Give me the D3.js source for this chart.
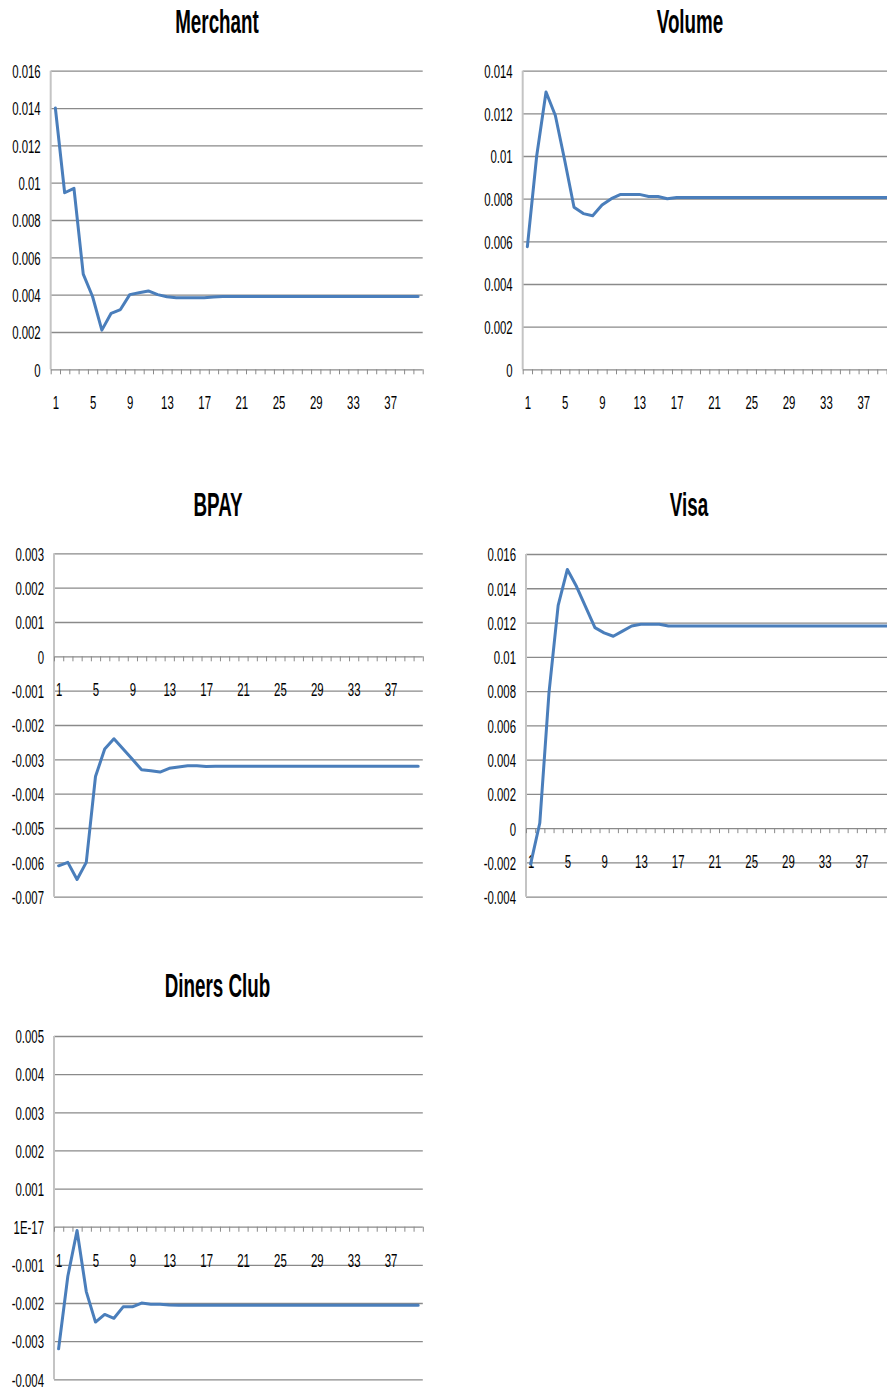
<!DOCTYPE html>
<html>
<head>
<meta charset="utf-8">
<script src="https://cdn.jsdelivr.net/npm/d3@7"></script>
<style>
  html, body { margin: 0; padding: 0; background: #fff; }
  svg { display: block; }
  text { font-family: "Liberation Sans", Arial, sans-serif; fill: #000; }
</style>
</head>
<body>
<svg id="chart" width="887" height="1391"></svg>
<script>
// Impulse responses, periods 1..40
const periods = d3.range(1, 41);
const xTickLabels = ["1", "5", "9", "13", "17", "21", "25", "29", "33", "37"];

const merchant = [0.0140, 0.00946, 0.0097, 0.0051, 0.0039, 0.0021, 0.0030, 0.0032, 0.0040, 0.0041,
  0.0042, 0.0040, 0.00389, 0.00384, 0.00383, 0.00383, 0.00384, 0.00388, 0.0039, 0.0039,
  0.0039, 0.0039, 0.0039, 0.0039, 0.0039, 0.0039, 0.0039, 0.0039, 0.0039, 0.0039,
  0.0039, 0.0039, 0.0039, 0.0039, 0.0039, 0.0039, 0.0039, 0.0039, 0.0039, 0.0039];

const volume = [0.00575, 0.0100, 0.0130, 0.0119, 0.0098, 0.0076, 0.0073, 0.0072, 0.0077, 0.0080,
  0.0082, 0.0082, 0.0082, 0.0081, 0.0081, 0.0080, 0.00805, 0.00806, 0.00806, 0.00806,
  0.00806, 0.00806, 0.00806, 0.00806, 0.00806, 0.00806, 0.00806, 0.00806, 0.00806, 0.00806,
  0.00806, 0.00806, 0.00806, 0.00806, 0.00806, 0.00806, 0.00806, 0.00806, 0.00806, 0.00806];

const bpay = [-0.0061, -0.0060, -0.0065, -0.0060, -0.0035, -0.0027, -0.0024, -0.0027, -0.0030, -0.0033,
  -0.00333, -0.00337, -0.00326, -0.00322, -0.00319, -0.00319, -0.00321, -0.0032, -0.0032, -0.0032,
  -0.0032, -0.0032, -0.0032, -0.0032, -0.0032, -0.0032, -0.0032, -0.0032, -0.0032, -0.0032,
  -0.0032, -0.0032, -0.0032, -0.0032, -0.0032, -0.0032, -0.0032, -0.0032, -0.0032, -0.0032];

const visa = [-0.0021, 0.0003, 0.0079, 0.0130, 0.0151, 0.0141, 0.0129, 0.0117, 0.0114, 0.0112,
  0.0115, 0.0118, 0.0119, 0.0119, 0.0119, 0.0118, 0.0118, 0.0118, 0.0118, 0.0118,
  0.0118, 0.0118, 0.0118, 0.0118, 0.0118, 0.0118, 0.0118, 0.0118, 0.0118, 0.0118,
  0.0118, 0.0118, 0.0118, 0.0118, 0.0118, 0.0118, 0.0118, 0.0118, 0.0118, 0.0118];

const diners = [-0.0032, -0.0013, -0.0001, -0.0017, -0.0025, -0.0023, -0.0024, -0.0021, -0.0021, -0.0020,
  -0.00203, -0.00203, -0.00205, -0.00206, -0.00206, -0.00206, -0.00206, -0.00206, -0.00206, -0.00206,
  -0.00206, -0.00206, -0.00206, -0.00206, -0.00206, -0.00206, -0.00206, -0.00206, -0.00206, -0.00206,
  -0.00206, -0.00206, -0.00206, -0.00206, -0.00206, -0.00206, -0.00206, -0.00206, -0.00206, -0.00206];

// Y tick values and their printed labels per panel
const merchantTicks = [0, 0.002, 0.004, 0.006, 0.008, 0.010, 0.012, 0.014, 0.016];
const merchantLabels = ["0", "0.002", "0.004", "0.006", "0.008", "0.01", "0.012", "0.014", "0.016"];
const volumeTicks = [0, 0.002, 0.004, 0.006, 0.008, 0.010, 0.012, 0.014];
const volumeLabels = ["0", "0.002", "0.004", "0.006", "0.008", "0.01", "0.012", "0.014"];
const bpayTicks = [-0.007, -0.006, -0.005, -0.004, -0.003, -0.002, -0.001, 0, 0.001, 0.002, 0.003];
const bpayLabels = ["-0.007", "-0.006", "-0.005", "-0.004", "-0.003", "-0.002", "-0.001", "0", "0.001", "0.002", "0.003"];
const visaTicks = [-0.004, -0.002, 0, 0.002, 0.004, 0.006, 0.008, 0.010, 0.012, 0.014, 0.016];
const visaLabels = ["-0.004", "-0.002", "0", "0.002", "0.004", "0.006", "0.008", "0.01", "0.012", "0.014", "0.016"];
const dinersTicks = [-0.004, -0.003, -0.002, -0.001, 0, 0.001, 0.002, 0.003, 0.004, 0.005];
const dinersLabels = ["-0.004", "-0.003", "-0.002", "-0.001", "1E-17", "0.001", "0.002", "0.003", "0.004", "0.005"];

// Panel layout (plot-area pixel boxes) and which series goes where
const panels = [
  { title: "Merchant", values: merchant, ticks: merchantTicks, labels: merchantLabels,
    left: 50.7, bandW: 9.3, top: 70.7, bottom: 369.3, titleX: 217, titleY: 33 },
  { title: "Volume", values: volume, ticks: volumeTicks, labels: volumeLabels,
    left: 522.7, bandW: 9.33, top: 70.7, bottom: 369.3, titleX: 690, titleY: 33 },
  { title: "BPAY", values: bpay, ticks: bpayTicks, labels: bpayLabels,
    left: 54, bandW: 9.22, top: 553.3, bottom: 896.7, titleX: 218, titleY: 516 },
  { title: "Visa", values: visa, ticks: visaTicks, labels: visaLabels,
    left: 526, bandW: 9.19, top: 554, bottom: 896.7, titleX: 689, titleY: 516 },
  { title: "Diners Club", values: diners, ticks: dinersTicks, labels: dinersLabels,
    left: 54, bandW: 9.22, top: 1036, bottom: 1379.3, titleX: 217.5, titleY: 997 }
];

const TEXT_SX = 0.6;      // condensed look of the tick text
const TITLE_SX = 0.57;
const gridColor = "#8a8a8a";
const lineColor = "#4a7ebb";

const svg = d3.select("#chart");

panels.forEach(p => {
  const n = periods.length;
  const right = p.left + p.bandW * n;
  const yMin = d3.min(p.ticks), yMax = d3.max(p.ticks);

  const y = d3.scaleLinear().domain([yMin, yMax]).range([p.bottom, p.top]);
  const xEdge = d3.scaleLinear().domain([0, n]).range([p.left, right]);
  const xCat = d3.scaleLinear().domain([0.5, n + 0.5]).range([p.left, right]);

  const g = svg.append("g");

  // Title
  g.append("text")
    .attr("transform", `translate(${p.titleX},${p.titleY}) scale(${TITLE_SX},1)`)
    .attr("text-anchor", "middle")
    .style("font-weight", "bold")
    .style("font-size", "33px")
    .text(p.title);

  // Horizontal gridlines + y labels
  const yAxis = g.append("g")
    .attr("transform", `translate(${p.left},0)`)
    .call(d3.axisLeft(y)
      .tickValues(p.ticks)
      .tickSize(-(right - p.left))
      .tickFormat((d, i) => p.labels[i]));
  yAxis.select(".domain").remove();
  yAxis.selectAll(".tick line")
    .attr("stroke", gridColor)
    .attr("stroke-width", 1.3);
  yAxis.selectAll(".tick text")
    .attr("x", null)
    .attr("dy", "0.36em")
    .attr("transform", `translate(-10,0) scale(${TEXT_SX},1)`)
    .style("font-size", "19px")
    .style("font-family", "'Liberation Sans', Arial, sans-serif")
    .attr("fill", "#000");

  // Vertical axis line
  g.append("line")
    .attr("x1", p.left).attr("x2", p.left)
    .attr("y1", y(yMax)).attr("y2", y(yMin))
    .attr("stroke", "#c4c4c4")
    .attr("stroke-width", 2);

  // Category tick marks hanging below the zero line
  const zeroY = y(0);
  const edgeAxis = g.append("g")
    .attr("transform", `translate(0,${zeroY})`)
    .call(d3.axisBottom(xEdge)
      .tickValues(d3.range(0, n + 1))
      .tickSize(5)
      .tickFormat(""));
  edgeAxis.select(".domain").remove();
  edgeAxis.selectAll(".tick line")
    .attr("stroke", gridColor)
    .attr("stroke-width", 1);

  // Category labels
  const catAxis = g.append("g")
    .attr("transform", `translate(0,${zeroY})`)
    .call(d3.axisBottom(xCat)
      .tickValues(xTickLabels.map(Number))
      .tickSize(0)
      .tickFormat(d => String(d)));
  catAxis.select(".domain").remove();
  catAxis.selectAll(".tick text")
    .attr("y", null)
    .attr("dy", null)
    .attr("transform", `translate(0,40) scale(${TEXT_SX},1)`)
    .style("font-size", "19px")
    .style("font-family", "'Liberation Sans', Arial, sans-serif")
    .attr("fill", "#000");

  // Response line
  const line = d3.line()
    .x((d, i) => xCat(periods[i]))
    .y(d => y(d));
  g.append("path")
    .datum(p.values)
    .attr("d", line)
    .attr("fill", "none")
    .attr("stroke", lineColor)
    .attr("stroke-width", 3)
    .attr("stroke-linejoin", "round")
    .attr("stroke-linecap", "round");
});
</script>
</body>
</html>
